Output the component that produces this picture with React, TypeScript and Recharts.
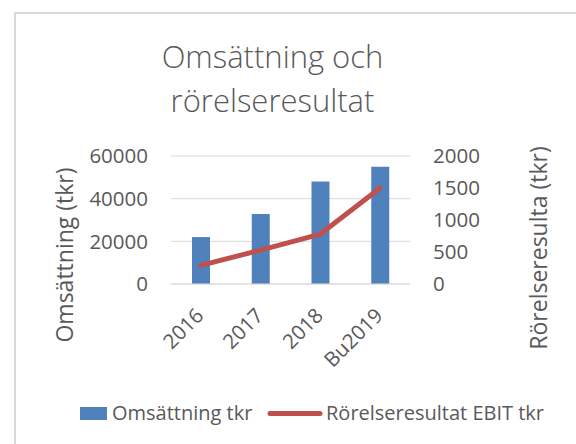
import React from 'react';
import { ComposedChart, Bar, Line, XAxis, YAxis, CartesianGrid } from 'recharts';

const categories = ['2016', '2017', '2018', 'Bu2019'];
const omsattning = [22000, 32800, 48000, 55000];
const ebit = [290, 530, 780, 1500];
const leftTicks = [0, 20000, 40000, 60000];
const rightTicks = [0, 500, 1000, 1500, 2000];

const titleLines = ['Omsättning och', 'rörelseresultat'];
const leftAxisTitle = 'Omsättning (tkr)';
const rightAxisTitle = 'Rörelseresulta (tkr)';
const barName = 'Omsättning tkr';
const lineName = 'Rörelseresultat EBIT tkr';

const data = categories.map((c, i) => ({ name: c, oms: omsattning[i], ebit: ebit[i] }));

const FONT = '"Open Sans", sans-serif';
const TXT = '#595959';
const BLUE = '#4F81BD';
const RED = '#C0504D';
const GRID = '#D9D9D9';

const XTick = (props: any) => {
  const { x, y, payload } = props;
  return (
    <g transform={`translate(${x + 4},${y + 33})`}>
      <text transform="rotate(-45)" textAnchor="end" fill={TXT} fontSize={20.5} fontFamily={FONT}>
        {payload.value}
      </text>
    </g>
  );
};

export default function App() {
  return (
    <div style={{ position: 'absolute', left: 0, top: 0, width: 576, height: 444, overflow: 'hidden', background: '#fff' }}>
      <ComposedChart
        width={576}
        height={444}
        data={data}
        margin={{ top: 156, right: 100, bottom: 100, left: 71 }}
      >
        <CartesianGrid yAxisId="left" vertical={false} stroke={GRID} strokeWidth={1} />
        <XAxis
          dataKey="name"
          height={60}
          tickLine={false}
          axisLine={{ stroke: GRID }}
          tickSize={0}
          tickMargin={0}
          interval={0}
          tick={<XTick />}
        />
        <YAxis
          yAxisId="left"
          orientation="left"
          width={100}
          domain={[0, 60000]}
          ticks={leftTicks}
          tickLine={false}
          axisLine={false}
          tickSize={0}
          tickMargin={23}
          tick={{ fill: TXT, fontSize: 20.5, fontFamily: FONT }}
        />
        <YAxis
          yAxisId="right"
          orientation="right"
          width={66}
          domain={[0, 2000]}
          ticks={rightTicks}
          tickLine={false}
          axisLine={false}
          tickSize={0}
          tickMargin={23}
          tick={{ fill: TXT, fontSize: 20.5, fontFamily: FONT, textAnchor: 'start' }}
        />
        <Bar yAxisId="left" dataKey="oms" name={barName} fill={BLUE} barSize={18} isAnimationActive={false} />
        <Line
          yAxisId="right"
          dataKey="ebit"
          name={lineName}
          type="linear"
          stroke={RED}
          strokeWidth={5}
          strokeLinecap="round"
          strokeLinejoin="round"
          dot={false}
          activeDot={false}
          isAnimationActive={false}
        />
      </ComposedChart>
      <svg width={576} height={444} style={{ position: 'absolute', left: 0, top: 0, pointerEvents: 'none' }}>
        <path d="M15 444 L15 13 L576 13" fill="none" stroke={GRID} strokeWidth={2} />
        <text x={272.5} y={68} textAnchor="middle" fill={TXT} fontSize={31} fontWeight={300} fontFamily={FONT}>{titleLines[0]}</text>
        <text x={272.5} y={112} textAnchor="middle" fill={TXT} fontSize={31} fontWeight={300} fontFamily={FONT}>{titleLines[1]}</text>
        <text transform="translate(73,255) rotate(-90)" textAnchor="middle" fill={TXT} fontSize={23} fontFamily={FONT}>{leftAxisTitle}</text>
        <text transform="translate(547,248) rotate(-90)" textAnchor="middle" fill={TXT} fontSize={23} fontFamily={FONT}>{rightAxisTitle}</text>
        <rect x={80} y={407} width={27} height={13} fill={BLUE} />
        <text x={112} y={420} fill={TXT} fontSize={20} fontFamily={FONT}>{barName}</text>
        <line x1={270} y1={413.5} x2={320} y2={413.5} stroke={RED} strokeWidth={5} strokeLinecap="round" />
        <text x={326} y={420} fill={TXT} fontSize={20} fontFamily={FONT}>{lineName}</text>
      </svg>
    </div>
  );
}
